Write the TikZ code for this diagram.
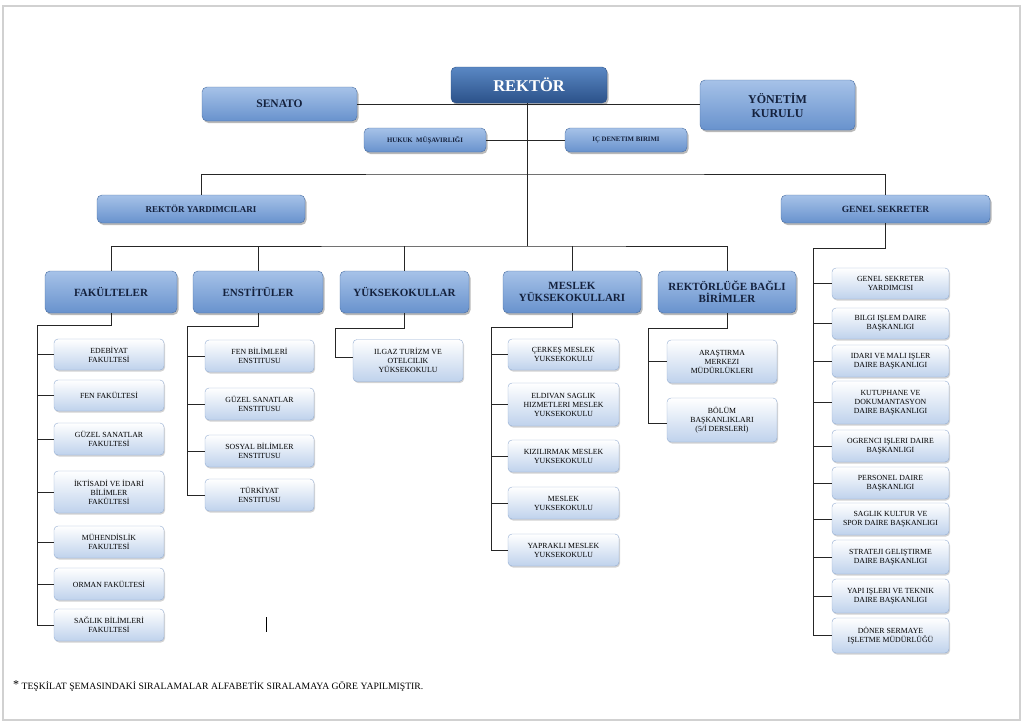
\documentclass[tikz,border=0pt]{standalone}
\usepackage{fontspec}
\setmainfont{Liberation Serif}
\usepackage{tikz}
\usetikzlibrary{shadows}

\definecolor{koyumavi}{HTML}{2B5189}
\definecolor{koyumavi2}{HTML}{5A88C4}
\definecolor{ustmavi}{HTML}{A6C2E8}
\definecolor{altmavi}{HTML}{6892CD}
\definecolor{kenar}{HTML}{4A6EA2}
\definecolor{yazimavi}{HTML}{14213D}
\definecolor{acikmavi}{HTML}{BFD2EC}
\definecolor{acikkenar}{HTML}{94ADD2}

\tikzset{
    anakutu/.style={rounded corners=5pt, draw=kenar, top color=ustmavi, bottom color=altmavi,
        text=yazimavi, font=\bfseries, align=center, inner sep=1pt,
        drop shadow={shadow xshift=1.5pt, shadow yshift=-2pt, opacity=0.55}},
    altkutu/.style={rounded corners=4pt, draw=acikkenar, top color=white, bottom color=acikmavi,
        text=black, font=\fontsize{7.8}{9}\selectfont, align=center, inner sep=1pt,
        drop shadow={shadow xshift=1pt, shadow yshift=-1.5pt, opacity=0.35}},
    hat/.style={line width=0.8pt, black!85}
}

\begin{document}
\begin{tikzpicture}[x=1pt, y=-1pt]
    % sayfa cercevesi
    \useasboundingbox (0,0) rectangle (1024,723);
    \draw[black!18, line width=1.2pt] (3,6) -- (1020,6) -- (1020,720) -- (3,720) -- cycle;

    % Rektor ve ust kurullar
    \node[anakutu, top color=koyumavi2, bottom color=koyumavi, draw=koyumavi, text=white,
        minimum width=156, minimum height=36, font=\fontsize{16.5}{18}\selectfont\bfseries] (rektor) at (529,85) {REKTÖR};
    \node[anakutu, minimum width=155, minimum height=34, font=\fontsize{11.5}{13}\selectfont\bfseries] (senato) at (279.5,104) {SENATO};
    \node[anakutu, minimum width=155, minimum height=50, font=\fontsize{12}{14}\selectfont\bfseries] (yonetim) at (777.5,105) {YÖNETİM\\KURULU};
    \node[anakutu, minimum width=122, minimum height=24, font=\fontsize{6.8}{8}\selectfont\bfseries] (hukuk) at (425,140) {HUKUK\ \ MÜŞAVIRLIĞI};
    \node[anakutu, minimum width=122, minimum height=24, font=\fontsize{6.8}{8}\selectfont\bfseries] (denetim) at (626,140) {IÇ DENETIM BIRIMI};

    \node[anakutu, minimum width=208, minimum height=28, font=\fontsize{9}{11}\selectfont\bfseries] (ryard) at (201,209) {REKTÖR YARDIMCILARI};
    \node[anakutu, minimum width=209, minimum height=28, font=\fontsize{9.5}{11}\selectfont\bfseries] (gsek) at (885.5,209) {GENEL SEKRETER};

    % ikinci sira
    \node[anakutu, minimum width=132, minimum height=42, font=\fontsize{11}{12}\selectfont\bfseries] (fak) at (111,292) {FAKÜLTELER};
    \node[anakutu, minimum width=130, minimum height=42, font=\fontsize{11}{12}\selectfont\bfseries] (ens) at (258,292) {ENSTİTÜLER};
    \node[anakutu, minimum width=129, minimum height=42, font=\fontsize{11}{12}\selectfont\bfseries] (yuk) at (404.5,292) {YÜKSEKOKULLAR};
    \node[anakutu, minimum width=138, minimum height=42, font=\fontsize{11}{12}\selectfont\bfseries] (myo) at (572,292) {MESLEK\\YÜKSEKOKULLARI};
    \node[anakutu, minimum width=138, minimum height=42, font=\fontsize{11}{12}\selectfont\bfseries] (rbb) at (727,292) {REKTÖRLÜĞE BAĞLI\\BİRİMLER};

    % fakulteler
    \node[altkutu, minimum width=110, minimum height=31] (fak1) at (109,354.5) {EDEBİYAT\\FAKULTESİ};
    \node[altkutu, minimum width=110, minimum height=31] (fak2) at (109,395.5) {FEN FAKÜLTESİ};
    \node[altkutu, minimum width=110, minimum height=32] (fak3) at (109,439) {GÜZEL SANATLAR\\FAKULTESİ};
    \node[altkutu, minimum width=110, minimum height=42] (fak4) at (109,492) {İKTİSADİ VE İDARİ\\BİLİMLER\\FAKÜLTESİ};
    \node[altkutu, minimum width=110, minimum height=32] (fak5) at (109,542) {MÜHENDİSLİK\\FAKULTESİ};
    \node[altkutu, minimum width=110, minimum height=32] (fak6) at (109,584) {ORMAN FAKÜLTESİ};
    \node[altkutu, minimum width=110, minimum height=32] (fak7) at (109,625) {SAĞLIK BİLİMLERİ\\FAKULTESİ};

    % enstituler
    \node[altkutu, minimum width=109, minimum height=32] (ens1) at (259.5,356) {FEN BİLİMLERİ\\ENSTITUSU};
    \node[altkutu, minimum width=109, minimum height=32] (ens2) at (259.5,404) {GÜZEL SANATLAR\\ENSTITUSU};
    \node[altkutu, minimum width=109, minimum height=32] (ens3) at (259.5,451) {SOSYAL BİLİMLER\\ENSTITUSU};
    \node[altkutu, minimum width=109, minimum height=32] (ens4) at (259.5,495) {TÜRKİYAT\\ENSTITUSU};

    % yuksekokullar
    \node[altkutu, minimum width=110, minimum height=42] (yuk1) at (408,360.5) {ILGAZ TURİZM VE\\OTELCILIK\\YÜKSEKOKULU};

    % meslek yuksekokullari
    \node[altkutu, minimum width=111, minimum height=31] (myo1) at (563.5,354.5) {ÇERKEŞ MESLEK\\YUKSEKOKULU};
    \node[altkutu, minimum width=111, minimum height=43] (myo2) at (563.5,404.5) {ELDIVAN SAGLIK\\HIZMETLERI MESLEK\\YUKSEKOKULU};
    \node[altkutu, minimum width=111, minimum height=32] (myo3) at (563.5,456) {KIZILIRMAK MESLEK\\YUKSEKOKULU};
    \node[altkutu, minimum width=111, minimum height=32] (myo4) at (563.5,503) {MESLEK\\YUKSEKOKULU};
    \node[altkutu, minimum width=111, minimum height=32] (myo5) at (563.5,550) {YAPRAKLI MESLEK\\YUKSEKOKULU};

    % rektorluge bagli birimler
    \node[altkutu, minimum width=110, minimum height=43] (rbb1) at (722,361.5) {ARAŞTIRMA\\MERKEZI\\MÜDÜRLÜKLERI};
    \node[altkutu, minimum width=110, minimum height=44] (rbb2) at (722,420) {BÖLÜM\\BAŞKANLIKLARI\\(5/İ DERSLERİ)};

    % genel sekreterlik
    \node[altkutu, minimum width=117, minimum height=31] (gs1) at (890.5,283.5) {GENEL SEKRETER\\YARDIMCISI};
    \node[altkutu, minimum width=117, minimum height=31] (gs2) at (890.5,323.5) {BILGI IŞLEM DAIRE\\BAŞKANLIGI};
    \node[altkutu, minimum width=117, minimum height=32] (gs3) at (890.5,361) {IDARI VE MALI IŞLER\\DAIRE BAŞKANLIGI};
    \node[altkutu, minimum width=117, minimum height=43] (gs4) at (890.5,402.5) {KUTUPHANE VE\\DOKUMANTASYON\\DAIRE BAŞKANLIGI};
    \node[altkutu, minimum width=117, minimum height=32] (gs5) at (890.5,446) {OGRENCI IŞLERI DAIRE\\BAŞKANLIGI};
    \node[altkutu, minimum width=117, minimum height=32] (gs6) at (890.5,483) {PERSONEL DAIRE\\BAŞKANLIGI};
    \node[altkutu, minimum width=117, minimum height=32] (gs7) at (890.5,519) {SAGLIK KULTUR VE\\SPOR DAIRE BAŞKANLIGI};
    \node[altkutu, minimum width=117, minimum height=34] (gs8) at (890.5,557) {STRATEJI GELIŞTIRME\\DAIRE BAŞKANLIGI};
    \node[altkutu, minimum width=117, minimum height=34] (gs9) at (890.5,596) {YAPI IŞLERI VE TEKNIK\\DAIRE BAŞKANLIGI};
    \node[altkutu, minimum width=117, minimum height=35] (gs10) at (890.5,635.5) {DÖNER SERMAYE\\IŞLETME MÜDÜRLÜĞÜ};

    % baglanti noktalari
    \coordinate (orta) at (527,174);
    \coordinate (dugum) at (527,246);
    \coordinate (fakbus) at (37,325);
    \coordinate (ensbus) at (187,326);
    \coordinate (yukbus) at (335,328);
    \coordinate (myobus) at (491,327);
    \coordinate (rbbbus) at (648,328);
    \coordinate (gsbus) at (813,248);

    % ust hatlar
    \draw[hat] (senato.east) -- (senato.east -| yonetim.west);
    \draw[hat] (rektor.south -| dugum) -- (dugum);
    \draw[hat] (hukuk.east) -- (denetim.west);
    \draw[hat] (ryard.north) |- (orta) -| (gsek.north);
    \draw[hat] (fak.north) |- (dugum) -| (rbb.north);
    \foreach \k in {ens, yuk, myo}
        \draw[hat] (\k.north) -- (\k.north |- dugum);

    % alt hatlar
    \draw[hat] (fak.south) |- (fakbus) |- (fak7.west);
    \foreach \i in {1,...,6}
        \draw[hat] (fakbus |- fak\i.west) -- (fak\i.west);
    \draw[hat] (ens.south) |- (ensbus) |- (ens4.west);
    \foreach \i in {1,...,3}
        \draw[hat] (ensbus |- ens\i.west) -- (ens\i.west);
    \draw[hat] (yuk.south) |- (yukbus) |- ([yshift=3pt]yuk1.west);
    \draw[hat] (myo.south) |- (myobus) |- (myo5.west);
    \foreach \i in {1,...,4}
        \draw[hat] (myobus |- myo\i.west) -- (myo\i.west);
    \draw[hat] (rbb.south) |- (rbbbus) |- ([yshift=-3pt]rbb2.west);
    \draw[hat] (rbbbus |- rbb1.west) -- (rbb1.west);
    \draw[hat] (gsek.south) |- (gsbus) |- (gs10.west);
    \foreach \i in {1,...,9}
        \draw[hat] (gsbus |- gs\i.west) -- (gs\i.west);

    % kucuk imlec izi
    \draw[line width=1pt] (266,617) -- (266,632);

    % dipnot
    \node[anchor=west, inner sep=0pt, font=\fontsize{9.7}{11}\selectfont] (dipnot) at (13,686)
        {\raisebox{0.2ex}{\fontsize{12}{12}\selectfont *} TEŞKİLAT ŞEMASINDAKİ SIRALAMALAR ALFABETİK SIRALAMAYA GÖRE YAPILMIŞTIR.};
\end{tikzpicture}
\end{document}
